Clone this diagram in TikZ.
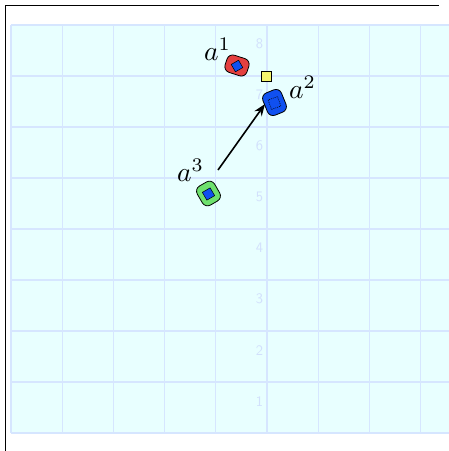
\documentclass[tikz,border=0pt]{standalone}
\usetikzlibrary{arrows.meta}
\definecolor{bgcyan}{RGB}{232,255,255}
\definecolor{gridblue}{RGB}{214,230,255}
\definecolor{axlab}{RGB}{210,224,252}
\definecolor{blobred}{RGB}{228,64,64}
\definecolor{blobblue}{RGB}{16,80,240}
\definecolor{blobgreen}{RGB}{110,225,110}
\definecolor{sqyellow}{RGB}{245,245,110}
\begin{document}
\begin{tikzpicture}[x=1pt,y=-1pt,
  gridline/.style={gridblue,line width=1.3pt},
  axlabel/.style={text=axlab,font=\sffamily\normalsize,inner sep=0pt,scale=1.45},
  blob/.style={draw=black,line width=0.8pt,rounded corners=6pt,inner sep=0pt},
  innersq/.style={draw=black,line width=0.5pt,fill=blobblue,minimum size=8pt,inner sep=0pt,rotate=30},
  alabel/.style={inner sep=0pt,font=\normalsize,scale=2.75}]
\useasboundingbox (0,0) rectangle (449,451);
\fill[bgcyan] (11,25) rectangle (449,433);
\foreach \i in {0,...,8} \draw[gridline] ({11+51.2*\i},25) -- ({11+51.2*\i},433);
\foreach \j in {0,...,8} \draw[gridline] (11,{25+51*\j}) -- (449,{25+51*\j});
\foreach \k in {1,...,8} \node[axlabel] (lab\k) at (259.5,{43.5+51.1*(8-\k)}) {\k};
\draw[black,line width=1pt] (5,451) -- (5,5) -- (439,5);
% yellow square
\node[draw=black,line width=0.6pt,fill=sqyellow,minimum size=10.5pt,inner sep=0pt] (ysq) at (266.5,76.5) {};
% a1 red
\node[blob,fill=blobred,minimum width=23pt,minimum height=18pt,rotate=-18] (b1) at (237,65.5) {};
\node[innersq,minimum size=8.5pt] (s1) at (237,66) {};
% a2 blue
\node[blob,fill=blobblue,minimum width=20pt,minimum height=24pt,rotate=22] (b2) at (274.5,102.5) {};
\node[innersq,dashed,dash pattern=on 1pt off 1pt,minimum size=10pt,rotate=-10] (s2) at (274.5,103) {};
% a3 green
\node[blob,fill=blobgreen,minimum width=20pt,minimum height=22pt,rotate=30,rounded corners=6pt] (b3) at (208.5,193.5) {};
\node[innersq,minimum size=9pt] (s3) at (208.5,194) {};
% labels
\node[alabel] (l1) at (217.5,49.5) {$a^1$};
\node[alabel] (l2) at (302.5,87.5) {$a^2$};
\node[alabel] (l3) at (190.5,170.5) {$a^3$};
% arrow
\coordinate (arrS) at (218,170);
\coordinate (arrE) at (265,104);
\draw[line width=1.6pt,-{Stealth[length=12pt,width=9pt]}] (arrS) -- (arrE);
\end{tikzpicture}
\end{document}
